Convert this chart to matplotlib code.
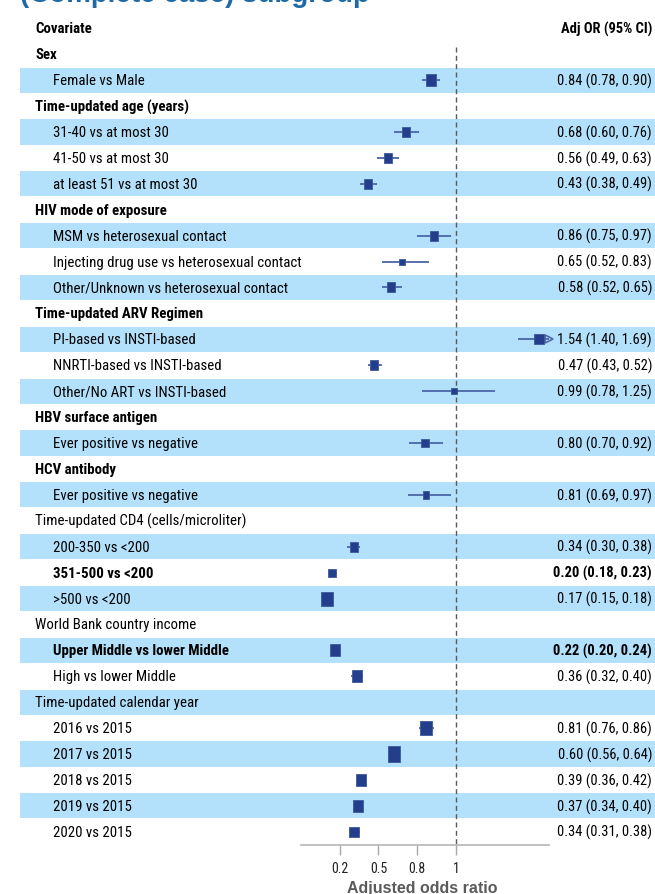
import numpy as np
import matplotlib
matplotlib.use("Agg")
import matplotlib.pyplot as plt
from matplotlib import font_manager as fm
from matplotlib.transforms import blended_transform_factory
from matplotlib.patches import Rectangle

# ---------------- data ----------------
labels = [
    "Sex", "Female vs Male",
    "Time-updated age (years)", "31-40 vs at most 30", "41-50 vs at most 30", "at least 51 vs at most 30",
    "HIV mode of exposure", "MSM vs heterosexual contact", "Injecting drug use vs heterosexual contact",
    "Other/Unknown vs heterosexual contact",
    "Time-updated ARV Regimen", "PI-based vs INSTI-based", "NNRTI-based vs INSTI-based", "Other/No ART vs INSTI-based",
    "HBV surface antigen", "Ever positive vs negative",
    "HCV antibody", "Ever positive vs negative",
    "Time-updated CD4 (cells/microliter)", "200-350 vs <200", "351-500 vs <200", ">500 vs <200",
    "World Bank country income", "Upper Middle vs lower Middle", "High vs lower Middle",
    "Time-updated calendar year", "2016 vs 2015", "2017 vs 2015", "2018 vs 2015", "2019 vs 2015", "2020 vs 2015",
]
is_group = [1, 0, 1, 0, 0, 0, 1, 0, 0, 0, 1, 0, 0, 0, 1, 0, 1, 0, 1, 0, 0, 0, 1, 0, 0, 1, 0, 0, 0, 0, 0]
is_bold = [1, 0, 1, 0, 0, 0, 1, 0, 0, 0, 1, 0, 0, 0, 1, 0, 1, 0, 0, 0, 1, 0, 0, 1, 0, 0, 0, 0, 0, 0, 0]
nan = np.nan
odds_ratio = [nan, 0.84, nan, 0.68, 0.56, 0.43, nan, 0.86, 0.65, 0.58, nan, 1.54, 0.47, 0.99, nan, 0.80,
              nan, 0.81, nan, 0.34, 0.20, 0.17, nan, 0.22, 0.36, nan, 0.81, 0.60, 0.39, 0.37, 0.34]
ci_low = [nan, 0.78, nan, 0.60, 0.49, 0.38, nan, 0.75, 0.52, 0.52, nan, 1.40, 0.43, 0.78, nan, 0.70,
          nan, 0.69, nan, 0.30, 0.18, 0.15, nan, 0.20, 0.32, nan, 0.76, 0.56, 0.36, 0.34, 0.31]
ci_high = [nan, 0.90, nan, 0.76, 0.63, 0.49, nan, 0.97, 0.83, 0.65, nan, 1.69, 0.52, 1.25, nan, 0.92,
           nan, 0.97, nan, 0.38, 0.23, 0.18, nan, 0.24, 0.40, nan, 0.86, 0.64, 0.42, 0.40, 0.38]
# relative weight (box width in pixels)
weight = [nan, 10.5, nan, 7.7, 7.7, 7.7, nan, 7.7, 5.7, 8.3, nan, 9.0, 8.7, 5.7, nan, 7.0,
          nan, 6.3, nan, 8.7, 7.3, 11.7, nan, 9.7, 9.3, nan, 11.7, 12.3, 10.0, 10.0, 9.0]
tick_values = [0.25, 0.5, 0.75, 1.0]
tick_labels = ["0.2", "0.5", "0.8", "1"]

# ---------------- fonts ----------------
avail = {f.name for f in fm.fontManager.ttflist}
NARROW, SC = "Liberation Sans", 0.84
for cand, sc in (("Liberation Sans Narrow", 1.0), ("Arial Narrow", 1.0), ("Roboto Condensed", 0.95)):
    if cand in avail:
        NARROW, SC = cand, sc
        break
REG = "Liberation Sans"

W, H = 655, 895
fig = plt.figure(figsize=(W / 100, H / 100), dpi=100)
row_h = 25.92
y0 = 55.2  # pixel center of row 0
top_px = y0 - 1.5 * row_h
bot_px = y0 + 30.5 * row_h
ax_left, ax_right = 301.0, 548.7
ax = fig.add_axes([ax_left / W, (H - bot_px) / H, (ax_right - ax_left) / W, (bot_px - top_px) / H])
ax.set_xlim(0, 1.6)
ax.set_ylim(30.5, -1.5)
ax.patch.set_alpha(0)
XMAX = 1.6

blend = blended_transform_factory(fig.transFigure, ax.transData)

# shading
for i in range(len(labels)):
    if i % 2 == 1:
        ax.add_patch(Rectangle((20 / W, i - 0.485), 1 - 20 / W, 0.97, transform=blend,
                               facecolor="#b3e1fb", edgecolor="none", clip_on=False, zorder=0))

LAB = 11.3 * SC
VAL = 11.0 * SC
ax.text(35 / W, -1, "Covariate", transform=blend, ha="left", va="center",
        fontsize=LAB, fontweight="bold", family=NARROW)
ax.text(652 / W, -1, "Adj OR (95% CI)", transform=blend, ha="right", va="center",
        fontsize=VAL, fontweight="bold", family=NARROW)

for i, lab in enumerate(labels):
    x = 35 / W if is_group[i] else 53 / W
    ax.text(x, i, lab, transform=blend, ha="left", va="center", fontsize=LAB,
            fontweight="bold" if is_bold[i] else "normal", family=NARROW, zorder=3)
    if not is_group[i]:
        ax.text(652 / W, i, f"{odds_ratio[i]:.2f} ({ci_low[i]:.2f}, {ci_high[i]:.2f})", transform=blend,
                ha="right", va="center", fontsize=VAL,
                fontweight="bold" if is_bold[i] else "normal", family=NARROW, zorder=3)

# reference line at OR = 1
ax.vlines(1.0, -0.28, 30.5, colors="#5a5a5a", linestyles=(0, (3.6, 2.4)), lw=1.0, zorder=2)

# CIs and boxes
ci_col = "#4a66a8"
box_col = "#233f8c"
box_verts = [(-0.41, -0.5), (0.41, -0.5), (0.41, 0.5), (-0.41, 0.5), (-0.41, -0.5)]
for i in range(len(labels)):
    if is_group[i]:
        continue
    hi = min(ci_high[i], XMAX)
    ax.hlines(i, ci_low[i], hi, colors=ci_col, lw=1.3, zorder=3)
    if ci_high[i] > XMAX:
        ax.plot(XMAX, i, marker=">", ms=6, mfc="none", mec=ci_col, mew=1.2, clip_on=False, zorder=4)
    ms = weight[i] * 1.22 * 0.72
    ax.plot(odds_ratio[i], i, marker=box_verts, ms=ms, mfc=box_col, mec="#3d5a9c", mew=0.6, zorder=5)

# axis styling
for s in ("top", "left", "right"):
    ax.spines[s].set_visible(False)
ax.spines["bottom"].set_color("#b5b5b5")
ax.spines["bottom"].set_linewidth(1.2)
ax.set_yticks([])
ax.set_xticks(tick_values)
ax.set_xticklabels(tick_labels, family=NARROW, fontsize=10.5 * SC)
ax.tick_params(axis="x", length=7.5, width=1.0, color="#a8a8a8", pad=4, labelcolor="#222222")

fig.text(422 / W, (H - 889) / H, "Adjusted odds ratio", ha="center", va="center",
         fontsize=11.5, fontweight="bold", color="#5a5a5a", family=REG)

# partially visible title at the top edge
fig.text(20 / W, 1 - 2.5 / H, "(Complete case) subgroup", ha="left", va="baseline",
         fontsize=20, fontweight="bold", color="#1f6aa5", family=REG)

fig.savefig("out.png", dpi=100)
